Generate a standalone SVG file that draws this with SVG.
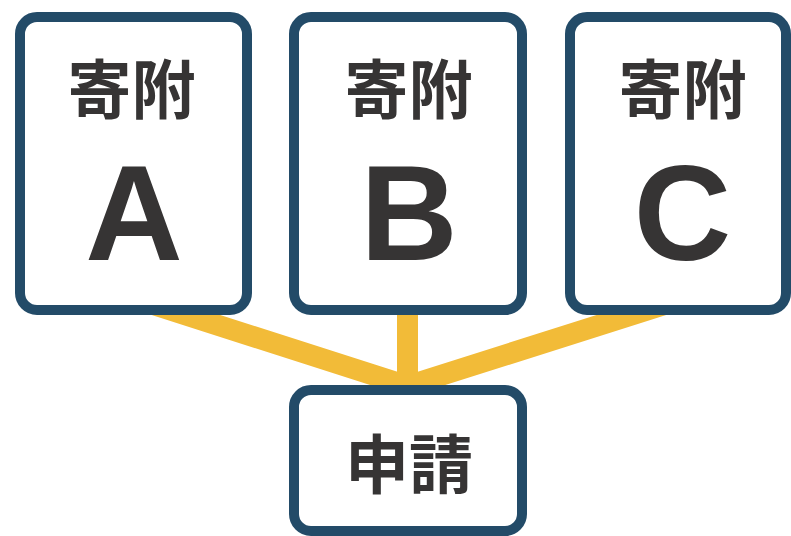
<svg xmlns="http://www.w3.org/2000/svg" width="791" height="536" viewBox="0 0 791 536">
  <style>
    .box { fill: #ffffff; stroke: #234b68; stroke-width: 10; }
    .conn { fill: none; stroke: #f2bb38; stroke-width: 21; stroke-linejoin: miter; }
    .jp { font-family: "Noto Sans CJK JP", "Noto Sans CJK SC", sans-serif; font-weight: 700; font-size: 64px; fill: #363434; text-anchor: middle; }
    .big { font-family: "Liberation Sans", Arial, sans-serif; font-weight: 700; font-size: 135px; fill: #363434; text-anchor: middle; }
  </style>
  <rect width="791" height="536" fill="#ffffff"/>
  <g id="connectors">
    <path class="conn" d="M130,297 L407.5,386 L685,298"/>
    <path class="conn" d="M407.5,300 V390"/>
  </g>
  <g id="node-a">
    <rect class="box" x="20" y="17" width="227" height="293" rx="17"/>
    <text class="jp" x="131.5" y="113">寄附</text>
    <text class="big" x="134" y="260">A</text>
  </g>
  <g id="node-b">
    <rect class="box" x="294" y="17" width="228" height="293" rx="17"/>
    <text class="jp" x="408.5" y="113">寄附</text>
    <text class="big" x="409" y="260">B</text>
  </g>
  <g id="node-c">
    <rect class="box" x="570" y="17" width="216" height="293" rx="17"/>
    <text class="jp" x="682.5" y="113">寄附</text>
    <text class="big" x="682.5" y="260">C</text>
  </g>
  <g id="node-apply">
    <rect class="box" x="294" y="390" width="228" height="141" rx="17"/>
    <text class="jp" x="409" y="488">申請</text>
  </g>
</svg>
